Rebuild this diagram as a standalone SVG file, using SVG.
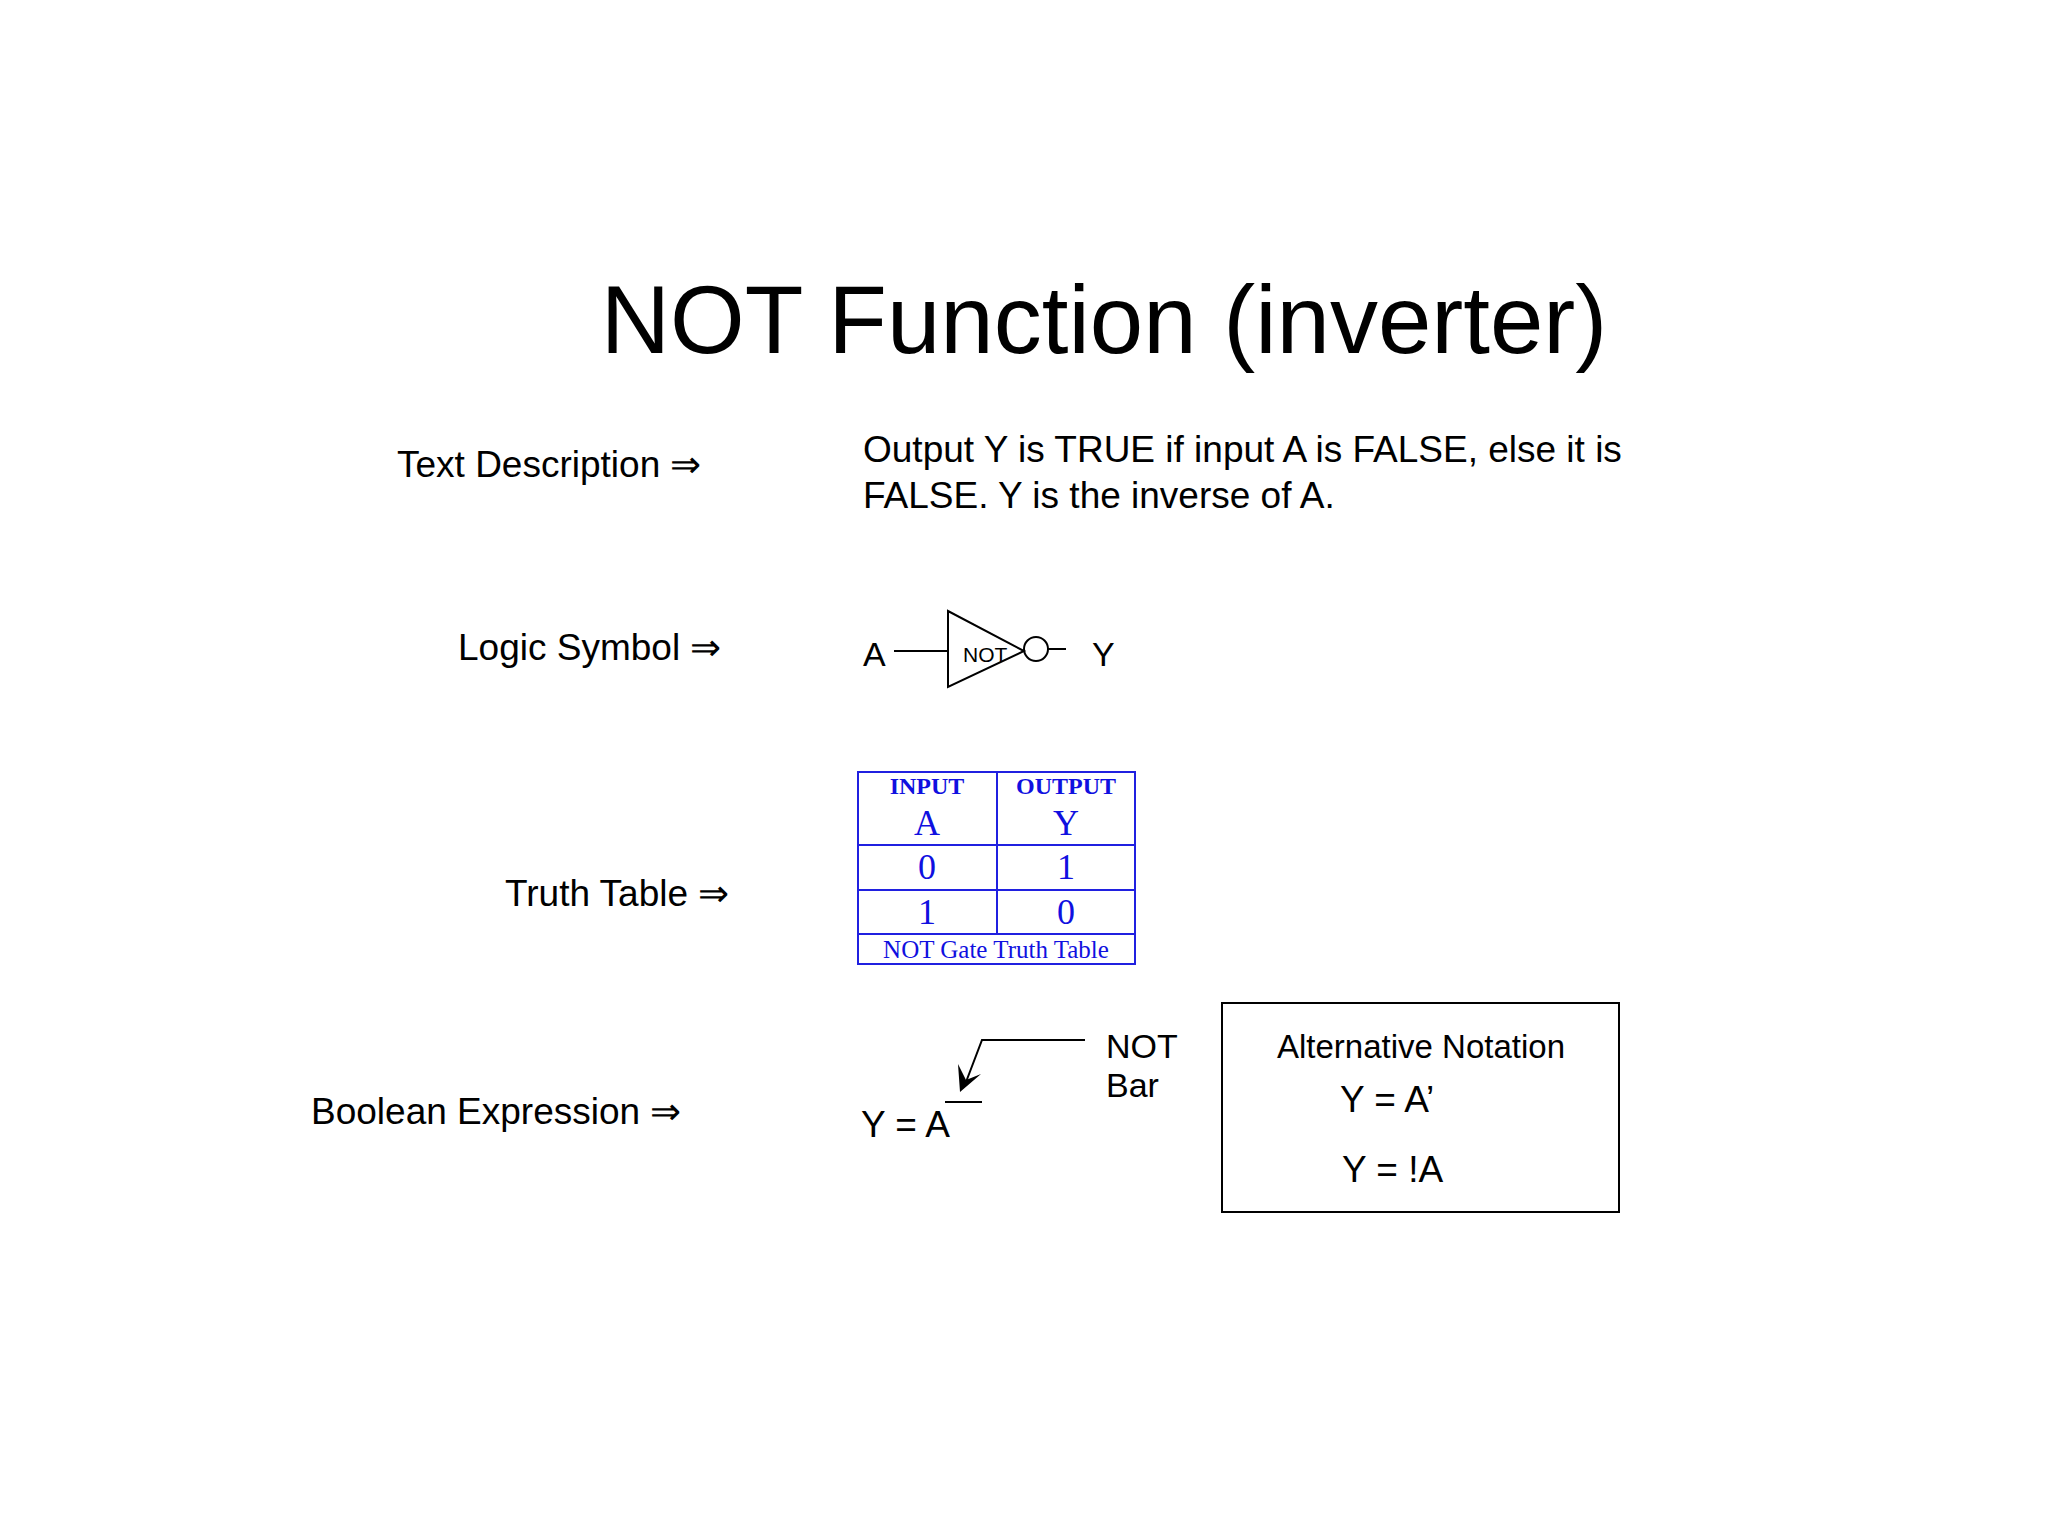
<svg xmlns="http://www.w3.org/2000/svg" width="2048" height="1536" viewBox="0 0 2048 1536">
<style>
.s{font-family:"Liberation Sans",Arial,sans-serif;fill:#000}
.t{font-family:"Liberation Serif","Times New Roman",serif;fill:#1010e0;text-anchor:middle}
.ln{stroke:#000;stroke-width:2;fill:none}
.bl{stroke:#2020e0;stroke-width:2;fill:none}
</style>
<rect width="2048" height="1536" fill="#fff"/>
<text class="s" x="1104" y="353" font-size="96" text-anchor="middle">NOT Function (inverter)</text>
<g id="labels" class="s" font-size="37">
<text x="397" y="477">Text Description ⇒</text>
<text x="458" y="660">Logic Symbol ⇒</text>
<text x="505" y="906">Truth Table ⇒</text>
<text x="311" y="1124">Boolean Expression ⇒</text>
</g>
<g id="description" class="s" font-size="37">
<text x="863" y="462">Output Y is TRUE if input A is FALSE, else it is</text>
<text x="863" y="508">FALSE.  Y is the inverse of A.</text>
</g>
<g id="gate">
<text class="s" x="863" y="666" font-size="34">A</text>
<line class="ln" x1="894" y1="651" x2="948" y2="651"/>
<polygon class="ln" points="948,611 948,687 1024,651"/>
<text class="s" x="963" y="662" font-size="21">NOT</text>
<circle class="ln" cx="1036" cy="649" r="12"/>
<line class="ln" x1="1048" y1="649" x2="1066" y2="649"/>
<text class="s" x="1092" y="666" font-size="34">Y</text>
</g>
<g id="truthtable">
<rect class="bl" x="858" y="772" width="277" height="192"/>
<line class="bl" x1="858" y1="845" x2="1135" y2="845"/>
<line class="bl" x1="858" y1="890" x2="1135" y2="890"/>
<line class="bl" x1="858" y1="934" x2="1135" y2="934"/>
<line class="bl" x1="997" y1="772" x2="997" y2="934"/>
<text class="t" x="927" y="794" font-size="24" font-weight="bold">INPUT</text>
<text class="t" x="1066" y="794" font-size="24" font-weight="bold">OUTPUT</text>
<text class="t" x="927" y="835" font-size="36">A</text>
<text class="t" x="1066" y="835" font-size="36">Y</text>
<text class="t" x="927" y="879" font-size="36">0</text>
<text class="t" x="1066" y="879" font-size="36">1</text>
<text class="t" x="927" y="924" font-size="36">1</text>
<text class="t" x="1066" y="924" font-size="36">0</text>
<text class="t" x="996" y="958" font-size="25">NOT Gate Truth Table</text>
</g>
<g id="expression">
<text class="s" x="861" y="1137" font-size="37">Y = A</text>
<line class="ln" x1="945" y1="1102" x2="982" y2="1102"/>
</g>
<g id="connectors">
<polyline class="ln" points="1085,1040 982,1040 966,1082"/>
<polygon points="960,1092 958,1064 966,1080 981,1074" fill="#000"/>
</g>
<g id="notbar" class="s" font-size="34">
<text x="1106" y="1058">NOT</text>
<text x="1106" y="1097">Bar</text>
</g>
<g id="alt">
<rect class="ln" x="1222" y="1003" width="397" height="209"/>
<text class="s" x="1421" y="1058" font-size="33" text-anchor="middle">Alternative Notation</text>
<text class="s" x="1340" y="1112" font-size="37">Y = A’</text>
<text class="s" x="1342" y="1182" font-size="37">Y = !A</text>
</g>
</svg>
